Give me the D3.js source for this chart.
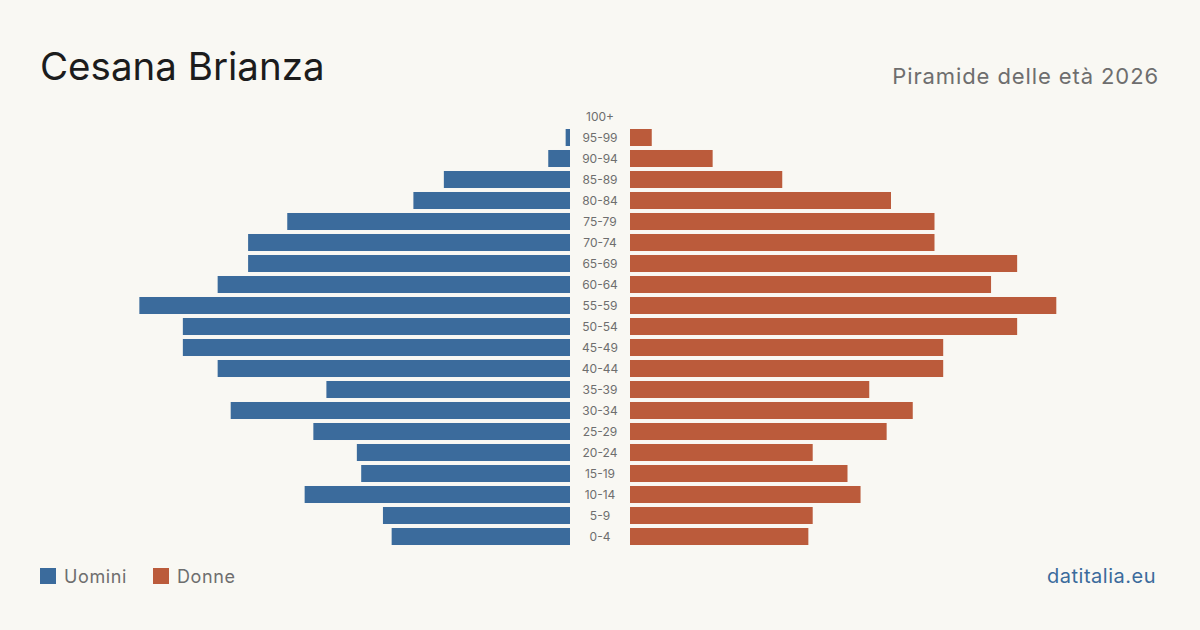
<!DOCTYPE html>
<html>
<head>
<meta charset="utf-8">
<title>Cesana Brianza</title>
<style>
    html, body { margin: 0; padding: 0; background: #f9f8f3; }
    svg { display: block; font-family: Inter, "Noto Sans", sans-serif; }
</style>
</head>
<body>
<svg id="svg" width="1200" height="630"></svg>
<script src="https://cdn.jsdelivr.net/npm/d3@7/dist/d3.min.js"></script>
<script>
    // classi di età, dall'alto verso il basso
    var ages = ['100+', '95-99', '90-94', '85-89', '80-84', '75-79', '70-74', '65-69', '60-64', '55-59',
        '50-54', '45-49', '40-44', '35-39', '30-34', '25-29', '20-24', '15-19', '10-14', '5-9', '0-4'];
    var uomini = [0, 1, 5, 29, 36, 65, 74, 74, 81, 99, 89, 89, 81, 56, 78, 59, 49, 48, 61, 43, 41];
    var donne = [0, 5, 19, 35, 60, 70, 70, 89, 83, 98, 89, 72, 72, 55, 65, 59, 42, 50, 53, 42, 41];

    var blue = '#3b6b9c', red = '#bb5b3b';
    var svg = d3.select('#svg');
    var mid = 600, gap = 30;

    var y = d3.scaleBand().domain(ages).range([106, 547]).paddingInner(0.19).paddingOuter(0.095);
    var x = d3.scaleLinear().domain([0, 100]).range([0, 435]);

    // titolo
    svg.append('text').attr('x', 40).attr('y', 80)
        .attr('font-size', 38.5).attr('fill', '#1c1c1c').text('Cesana Brianza');
    svg.append('text').attr('x', 1159).attr('y', 84).attr('text-anchor', 'end')
        .attr('font-size', 22).attr('letter-spacing', 0.9).attr('fill', '#6e6e6e').text('Piramide delle età 2026');

    var rows = ages.map((a, i) => ({age: a, m: uomini[i], f: donne[i]}));
    var g = svg.selectAll('g.row').data(rows).enter().append('g').attr('class', 'row');

    g.append('rect')
        .attr('x', d => mid - gap - x(d.m))
        .attr('y', d => y(d.age))
        .attr('width', d => x(d.m))
        .attr('height', y.bandwidth())
        .attr('fill', blue);
    g.append('rect')
        .attr('x', mid + gap)
        .attr('y', d => y(d.age))
        .attr('width', d => x(d.f))
        .attr('height', y.bandwidth())
        .attr('fill', red);
    g.append('text')
        .attr('x', mid)
        .attr('y', d => y(d.age) + y.bandwidth() / 2)
        .attr('dy', '0.35em')
        .attr('text-anchor', 'middle')
        .attr('font-size', 12)
        .attr('fill', '#6e6e6e')
        .text(d => d.age);

    // legenda
    var legend = [{name: 'Uomini', color: blue, x: 40}, {name: 'Donne', color: red, x: 153}];
    var lg = svg.selectAll('g.legend').data(legend).enter().append('g').attr('class', 'legend');
    lg.append('rect').attr('x', d => d.x).attr('y', 568).attr('width', 16).attr('height', 16)
        .attr('fill', d => d.color);
    lg.append('text').attr('x', d => d.x + 24).attr('y', 583)
        .attr('font-size', 18).attr('letter-spacing', 0.6).attr('fill', '#6e6e6e').text(d => d.name);

    svg.append('text').attr('x', 1156).attr('y', 583).attr('text-anchor', 'end')
        .attr('font-size', 20).attr('letter-spacing', 0.5).attr('fill', blue).text('datitalia.eu');
</script>
</body>
</html>
